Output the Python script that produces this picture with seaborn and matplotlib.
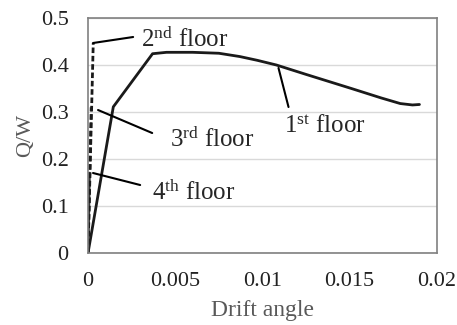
import matplotlib
matplotlib.use("Agg")
import matplotlib.pyplot as plt
import seaborn as sns
import pandas as pd

# Data
floor1_x = [0.0, 0.00145, 0.0037, 0.0045, 0.006, 0.0075, 0.0087, 0.0097, 0.0108, 0.0125, 0.0151, 0.0168, 0.0179, 0.0186, 0.019]
floor1_y = [0.0, 0.311, 0.424, 0.427, 0.427, 0.425, 0.418, 0.410, 0.400, 0.380, 0.350, 0.330, 0.318, 0.315, 0.316]
floor2_x = [0.0, 0.0003]
floor2_y = [0.0, 0.447]
floor3_x = [0.0, 0.00018]
floor3_y = [0.0, 0.31]
floor4_x = [0.0, 0.00008]
floor4_y = [0.0, 0.17]

x_ticks = [0, 0.005, 0.01, 0.015, 0.02]
x_tick_labels = ["0", "0.005", "0.01", "0.015", "0.02"]
y_ticks = [0, 0.1, 0.2, 0.3, 0.4, 0.5]
y_tick_labels = ["0", "0.1", "0.2", "0.3", "0.4", "0.5"]

sns.set_theme(style="white")
plt.rcParams["font.family"] = ["Liberation Serif", "DejaVu Serif"]
plt.rcParams["mathtext.fontset"] = "custom"
plt.rcParams["mathtext.rm"] = "Liberation Serif"
plt.rcParams["mathtext.it"] = "Liberation Serif:italic"

fig = plt.figure(figsize=(4.57, 3.25), dpi=100)
ax = fig.add_axes([0.1926, 0.2215, 0.7634, 0.7231])

df1 = pd.DataFrame({"x": floor1_x, "y": floor1_y})
sns.lineplot(data=df1, x="x", y="y", ax=ax, color="#1a1a1a", lw=2.0, sort=False, estimator=None)
sns.lineplot(x=floor4_x, y=floor4_y, ax=ax, color="#333333", lw=2.0, sort=False, estimator=None)
sns.lineplot(x=floor3_x, y=floor3_y, ax=ax, color="#333333", lw=2.0, sort=False, estimator=None, linestyle=(0, (2, 1)))
sns.lineplot(x=floor2_x, y=floor2_y, ax=ax, color="#1a1a1a", lw=2.0, sort=False, estimator=None, linestyle=(0, (2, 1)))

ax.set_xlim(0, 0.02)
ax.set_ylim(0, 0.5)
ax.set_xticks(x_ticks)
ax.set_xticklabels(x_tick_labels)
ax.set_yticks(y_ticks)
ax.set_yticklabels(y_tick_labels)
ax.tick_params(axis="both", length=0, labelsize=16, colors="#222222", pad=14)
ax.yaxis.grid(True, color="#d9d9d9", lw=1)
ax.xaxis.grid(False)
for s in ax.spines.values():
    s.set_color("#808080")
    s.set_linewidth(1.2)
ax.set_xlabel("Drift angle", fontsize=17, color="#595959", labelpad=6)
ax.set_ylabel("Q/W", fontsize=16, color="#595959", labelpad=4)

def px(xp, yp):
    return ((xp - 88) / 17400.0, (253 - yp) / 470.0)

line_kw = dict(arrowstyle="-", color="black", lw=1.5, shrinkA=0, shrinkB=0)
fs = 18
ax.annotate("", xy=px(93, 43), xytext=px(133, 37), arrowprops=line_kw)
ax.text(*px(141, 47), r"2$^{\rm nd}$ floor", fontsize=fs, ha="left", va="baseline")
ax.annotate("", xy=px(98, 110), xytext=px(152, 133), arrowprops=line_kw)
ax.text(*px(170, 147), r"3$^{\rm rd}$ floor", fontsize=fs, ha="left", va="baseline")
ax.annotate("", xy=px(93, 173), xytext=px(140, 185), arrowprops=line_kw)
ax.text(*px(152, 200), r"4$^{\rm th}$ floor", fontsize=fs, ha="left", va="baseline")
ax.annotate("", xy=px(278, 68), xytext=px(288, 107), arrowprops=line_kw)
ax.text(*px(283, 133), r"1$^{\rm st}$ floor", fontsize=fs, ha="left", va="baseline")

fig.savefig("out.png", dpi=100)
